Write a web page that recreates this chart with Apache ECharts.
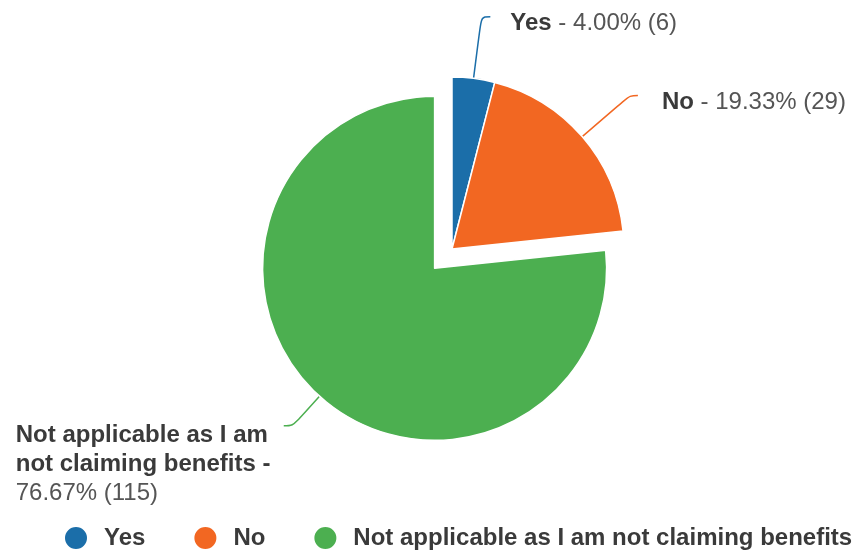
<!DOCTYPE html>
<html>
<head>
<meta charset="utf-8">
<title>Benefits claim responses</title>
<script src="https://cdn.jsdelivr.net/npm/echarts@6/dist/echarts.min.js"></script>
<style>
  html, body { margin: 0; padding: 0; background: #ffffff; }
  #chart { width: 867px; height: 552px; }
</style>
</head>
<body>
<div id="chart"></div>
<script>
// Survey answers and their response counts
const categories = ['Yes', 'No', 'Not applicable as I am not claiming benefits'];
const counts = [6, 29, 115];
const sliceColors = ['#1b6ea9', '#f26722', '#4caf50'];

const FONT = '"Liberation Sans", Arial, Helvetica, sans-serif';
const NAME_COLOR = '#3a3a3a';
const VALUE_COLOR = '#555555';

// Per-slice label placement (guide line lengths, spacing, vertical nudge)
const labelPlacement = [
  { length: 62, length2: 9, gap: 20, padTop: 14 },
  { length: 63, length2: 8, gap: 24, padTop: 14 },
  { length: 40, length2: 9, gap: 6, padTop: 77, wrap: 262 }
];

const richStyles = {
  b: { fontFamily: FONT, fontSize: 24, fontWeight: 'bold', color: NAME_COLOR, align: 'left', lineHeight: 29 },
  v: { fontFamily: FONT, fontSize: 24, color: VALUE_COLOR, align: 'left', lineHeight: 29 }
};

const seriesData = categories.map(function (name, i) {
  const p = labelPlacement[i];
  const item = {
    name: name,
    value: counts[i],
    itemStyle: { color: sliceColors[i] },
    labelLine: { length: p.length, length2: p.length2 },
    label: { distanceToLabelLine: p.gap, padding: [p.padTop, 0, 0, 0] }
  };
  if (p.wrap) {
    item.label.width = p.wrap;
    item.label.overflow = 'break';
  }
  if (i === categories.length - 1) {
    item.selected = true;
  }
  return item;
});

function sliceLabel(params) {
  const pct = params.percent.toFixed(2) + '% (' + params.value + ')';
  if (labelPlacement[params.dataIndex].wrap) {
    // long answer: name wraps, value goes on its own line
    return '{b|' + params.name + ' -}\n{v|' + pct + '}';
  }
  return '{b|' + params.name + '}{v| - ' + pct + '}';
}

const chart = echarts.init(document.getElementById('chart'), null, { renderer: 'canvas' });

chart.setOption({
  animation: false,
  backgroundColor: '#ffffff',
  legend: {
    orient: 'horizontal',
    left: 63,
    top: 525,
    padding: 0,
    itemWidth: 24,
    itemHeight: 24,
    itemGap: 47,
    icon: 'circle',
    selectedMode: false,
    data: categories,
    textStyle: {
      fontFamily: FONT,
      fontSize: 24,
      fontWeight: 'bold',
      color: NAME_COLOR,
      padding: [0, 0, 0, 11]
    }
  },
  series: [{
    type: 'pie',
    center: [452, 249],
    radius: 172,
    startAngle: 90,
    clockwise: true,
    selectedMode: 'single',
    selectedOffset: 26,
    avoidLabelOverlap: false,
    itemStyle: { borderColor: '#ffffff', borderWidth: 1.5 },
    emphasis: { disabled: true },
    label: {
      show: true,
      position: 'outside',
      alignTo: 'none',
      bleedMargin: 5,
      formatter: sliceLabel,
      rich: richStyles
    },
    labelLine: {
      show: true,
      smooth: 0.35,
      lineStyle: { width: 1.5 }
    },
    data: seriesData
  }]
});
</script>
</body>
</html>
